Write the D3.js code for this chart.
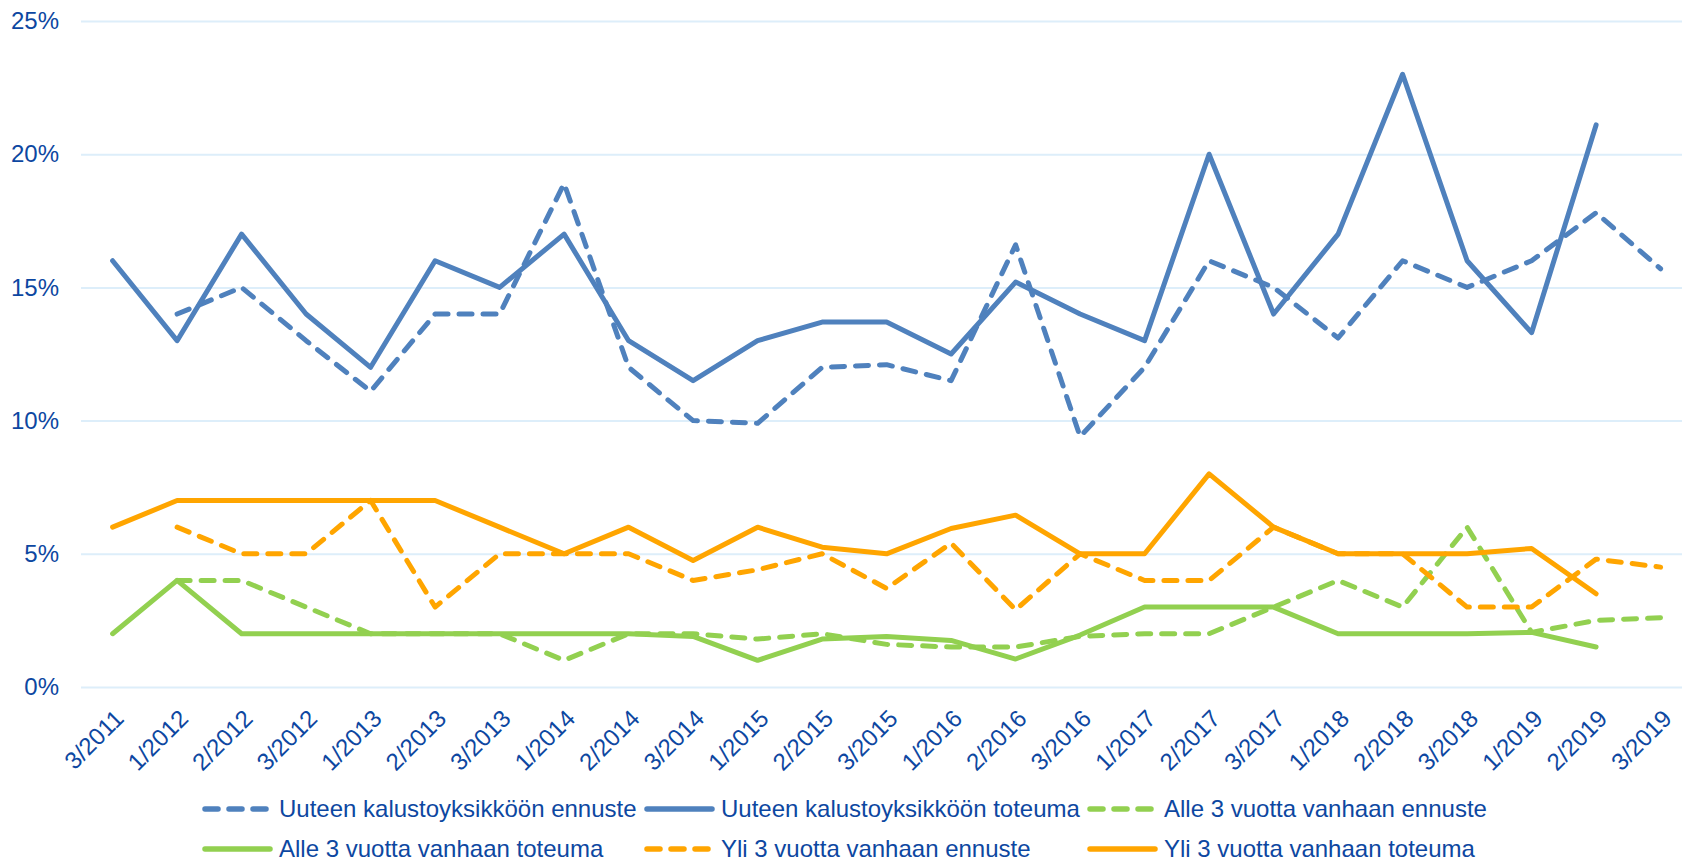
<!DOCTYPE html>
<html lang="fi">

<head>
    <meta charset="UTF-8">
    <title>Ennuste ja toteuma</title>
    <style>
        body {
            margin: 0;
            background: #fff;
        }

        svg {
            display: block;
            font-family: "Liberation Sans", Arial, sans-serif;
        }
    </style>
</head>

<body>
    <svg></svg>
    <script src="https://cdn.jsdelivr.net/npm/d3@7.8.5/dist/d3.min.js"></script>
    <script>
        const categories = ['3/2011', '1/2012', '2/2012', '3/2012', '1/2013', '2/2013', '3/2013',
            '1/2014', '2/2014', '3/2014', '1/2015', '2/2015', '3/2015', '1/2016', '2/2016', '3/2016',
            '1/2017', '2/2017', '3/2017', '1/2018', '2/2018', '3/2018', '1/2019', '2/2019', '3/2019']

        const uuteenEnnuste = [null, 14, 15, 13, 11.1, 14, 14, 18.9, 12, 10, 9.9, 12, 12.1, 11.5, 16.6,
            9.4, 12, 16, 15, 13.1, 16, 15, 16, 17.8, 15.7]
        const uuteenToteuma = [16, 13, 17, 14, 12, 16, 15, 17, 13, 11.5, 13, 13.7, 13.7, 12.5, 15.2,
            14, 13, 20, 14, 17, 23, 16, 13.3, 21.1, null]
        const alleEnnuste = [null, 4, 4, 3, 2, 2, 2, 1, 2, 2, 1.8, 2, 1.6, 1.5, 1.5,
            1.9, 2, 2, 3, 4, 3, 6, 2.05, 2.5, 2.6]
        const alleToteuma = [2, 4, 2, 2, 2, 2, 2, 2, 2, 1.9, 1, 1.8, 1.9, 1.75, 1.05,
            1.95, 3, 3, 3, 2, 2, 2, 2.05, 1.5, null]
        const yliEnnuste = [null, 6, 5, 5, 7, 3, 5, 5, 5, 4, 4.4, 5, 3.7, 5.4, 2.9,
            5, 4, 4, 6, 5, 5, 3, 3, 4.8, 4.5]
        const yliToteuma = [6, 7, 7, 7, 7, 7, 6, 5, 6, 4.75, 6, 5.25, 5, 5.95, 6.45,
            5, 5, 8, 6, 5, 5, 5, 5.2, 3.5, null]

        const yTicks = [0, 5, 10, 15, 20, 25]

        const series = [
            { name: 'Uuteen kalustoyksikköön ennuste', values: uuteenEnnuste, color: '#4F81BD', dashed: true },
            { name: 'Uuteen kalustoyksikköön toteuma', values: uuteenToteuma, color: '#4F81BD', dashed: false },
            { name: 'Alle 3 vuotta vanhaan ennuste', values: alleEnnuste, color: '#92D050', dashed: true },
            { name: 'Alle 3 vuotta vanhaan toteuma', values: alleToteuma, color: '#92D050', dashed: false },
            { name: 'Yli 3 vuotta vanhaan ennuste', values: yliEnnuste, color: '#FFA500', dashed: true },
            { name: 'Yli 3 vuotta vanhaan toteuma', values: yliToteuma, color: '#FFA500', dashed: false }
        ]

        const width = 1682
        const height = 864
        const textColor = '#0D47A1'
        const plotLeft = 81
        const plotRight = 1693

        const svg = d3.select('svg')
            .attr('width', width)
            .attr('height', height)

        const x = d3.scalePoint()
            .domain(categories)
            .range([112.6, 1660.6])

        const y = d3.scaleLinear()
            .domain([0, 25])
            .range([687, 21])

        // gridlines + y labels
        const yAxis = svg.append('g')
            .attr('transform', `translate(${plotLeft},0)`)
            .call(d3.axisLeft(y)
                .tickValues(yTicks)
                .tickFormat(d => d + '%')
                .tickSize(-(plotRight - plotLeft))
                .tickPadding(22))

        yAxis.select('.domain').remove()
        yAxis.selectAll('line')
            .attr('stroke', '#DDEEFA')
            .attr('stroke-width', 2)
        yAxis.selectAll('text')
            .attr('fill', textColor)
            .attr('font-size', 24)
            .attr('font-family', '"Liberation Sans", Arial, sans-serif')

        // x labels
        const xAxis = svg.append('g')
            .attr('transform', 'translate(0,687)')
            .call(d3.axisBottom(x).tickSize(0))

        xAxis.select('.domain').remove()
        xAxis.selectAll('text')
            .attr('fill', textColor)
            .attr('font-size', 24)
            .attr('font-family', '"Liberation Sans", Arial, sans-serif')
            .attr('text-anchor', 'end')
            .attr('dy', 0)
            .attr('y', 0)
            .attr('transform', 'translate(12,33) rotate(-45)')

        const line = d3.line()
            .defined(d => d != null)
            .x((d, i) => x(categories[i]))
            .y(d => y(d))

        svg.append('g')
            .selectAll('path')
            .data(series)
            .join('path')
            .attr('d', d => line(d.values))
            .attr('fill', 'none')
            .attr('stroke', d => d.color)
            .attr('stroke-width', 5)
            .attr('stroke-linejoin', 'round')
            .attr('stroke-linecap', 'round')
            .attr('stroke-dasharray', d => d.dashed ? '13,11' : null)

        // legend, 3 columns x 2 rows
        const legendCols = [202, 644, 1087]
        const legendRows = [809, 849]

        const legend = svg.append('g')
            .selectAll('g')
            .data(series)
            .join('g')
            .attr('transform', (d, i) => `translate(${legendCols[i % 3]},${legendRows[Math.floor(i / 3)]})`)

        legend.append('line')
            .attr('x1', 3)
            .attr('x2', 68)
            .attr('stroke', d => d.color)
            .attr('stroke-width', 5.5)
            .attr('stroke-linecap', 'round')
            .attr('stroke-dasharray', d => d.dashed ? '13,11' : null)

        legend.append('text')
            .attr('x', 77)
            .attr('dy', '0.35em')
            .attr('fill', textColor)
            .attr('font-size', 24)
            .text(d => d.name)
    </script>
</body>

</html>
